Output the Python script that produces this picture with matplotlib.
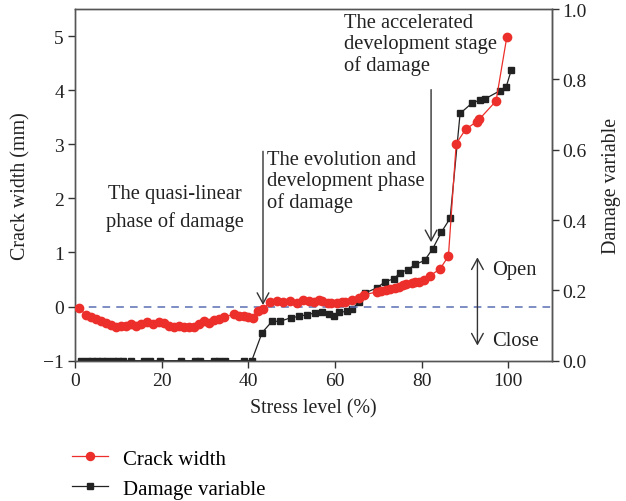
import matplotlib
matplotlib.use("Agg")
import matplotlib.pyplot as plt
from matplotlib.lines import Line2D

plt.rcParams['font.family'] = ['Liberation Serif', 'DejaVu Serif']
plt.rcParams['font.size'] = 14
plt.rcParams['axes.unicode_minus'] = True

# ---- data ----
crack_stress = [1.0, 2.5, 3.7, 4.8, 6.0, 7.1, 8.3, 9.4, 10.6, 11.8, 12.9, 14.0, 15.2, 16.7,
                17.9, 19.4, 20.5, 21.7, 22.8, 24.0, 25.1, 26.3, 27.4, 28.6, 29.8, 30.9, 32.0,
                33.2, 34.3, 36.6, 37.8, 38.9, 40.0, 41.0, 42.3, 43.5, 45.0, 46.6, 48.1, 49.7,
                51.2, 52.7, 54.0, 55.1, 56.3, 57.1, 58.3, 59.0, 60.5, 61.7, 62.4, 64.0, 65.5,
                66.7, 69.7, 70.7, 71.7, 72.8, 73.8, 74.7, 75.7, 76.3, 77.8, 78.6, 79.3, 80.5,
                82.0, 84.3, 86.2, 88.0, 90.2, 92.8, 93.3, 97.2, 99.7]
crack_width = [-0.02, -0.16, -0.20, -0.23, -0.27, -0.31, -0.34, -0.38, -0.36, -0.35, -0.33,
               -0.36, -0.33, -0.29, -0.32, -0.28, -0.31, -0.36, -0.38, -0.36, -0.38, -0.38,
               -0.38, -0.33, -0.27, -0.30, -0.24, -0.23, -0.20, -0.14, -0.17, -0.18, -0.19,
               -0.21, -0.09, -0.04, 0.08, 0.10, 0.08, 0.10, 0.06, 0.13, 0.10, 0.09, 0.12,
               0.11, 0.07, 0.06, 0.07, 0.09, 0.09, 0.12, 0.15, 0.22, 0.27, 0.28, 0.30, 0.32,
               0.35, 0.37, 0.40, 0.41, 0.44, 0.45, 0.46, 0.49, 0.57, 0.70, 0.93, 3.01, 3.28,
               3.42, 3.46, 3.80, 4.99]

damage_stress = [1.5, 2.7, 3.9, 5.1, 6.3, 7.5, 8.7, 9.9, 11.0, 13.0, 16.0, 17.2, 19.6, 24.5,
                 27.6, 28.9, 32.0, 33.3, 34.6, 38.9, 40.8, 43.2, 45.5, 47.3, 49.8, 51.7, 53.6,
                 55.5, 57.1, 58.6, 59.7, 60.9, 62.8, 64.0, 65.5, 67.0, 69.7, 71.5, 73.6, 75.1,
                 76.8, 78.6, 80.7, 82.6, 84.6, 86.6, 88.9, 91.6, 93.4, 94.6, 98.0, 99.5, 100.7]
damage_var = [0.0, 0.0, 0.0, 0.0, 0.0, 0.0, 0.0, 0.0, 0.0, 0.0, 0.0, 0.0, 0.0, 0.0,
              0.0, 0.0, 0.0, 0.0, 0.0, 0.0, 0.0, 0.08, 0.112, 0.112, 0.122, 0.126, 0.131,
              0.136, 0.139, 0.134, 0.128, 0.138, 0.140, 0.147, 0.166, 0.193, 0.207, 0.224,
              0.233, 0.250, 0.259, 0.274, 0.285, 0.319, 0.366, 0.405, 0.703, 0.732, 0.741,
              0.744, 0.767, 0.777, 0.826]

x_ticks = [0, 20, 40, 60, 80, 100]
left_ticks = [-1, 0, 1, 2, 3, 4, 5]
right_ticks = [0.0, 0.2, 0.4, 0.6, 0.8, 1.0]

RED = '#ec2f2a'
DARK = '#222222'
TXT = '#222222'
FS_TICK = 14
FS_LAB = 14.4
FS_ANN = 14.8

fig = plt.figure(figsize=(6.26, 5.02), dpi=100)
ax = fig.add_axes([75/626, 1 - 361.7/502, (551.5 - 75)/626, (361.7 - 10)/502])
ax2 = ax.twinx()

ax.set_xlim(0, 110)
ax.set_ylim(-1, 5.5)
ax2.set_ylim(0, 1.0)

# zero reference line
ax.axhline(0, color='#5a6fb3', lw=1.1, ls=(0, (5, 4)), zorder=1)

ax.plot(crack_stress, crack_width, color=RED, lw=0.9, marker='o', ms=6.0,
        mfc=RED, mec=RED, zorder=3)
ax2.plot(damage_stress, damage_var, color=DARK, lw=0.9, marker='s', ms=5.0,
         mfc=DARK, mec=DARK, zorder=3)
ax.set_zorder(ax2.get_zorder() + 1)
ax.patch.set_visible(False)

ax.set_xticks(x_ticks)
ax.set_yticks(left_ticks)
ax2.set_yticks(right_ticks)
ax2.set_yticklabels([f"{v:.1f}" for v in right_ticks])

for a in (ax, ax2):
    a.tick_params(direction='out', length=5, width=1, colors='#333333', labelsize=FS_TICK,
                  labelcolor=TXT, pad=3)
    for s in a.spines.values():
        s.set_color('#555555')
        s.set_linewidth(1.0)
ax2.spines['right'].set_color('#111111')

ax.set_xlabel('Stress level (%)', fontsize=FS_LAB, labelpad=7, color=TXT)
ax.set_ylabel('Crack width (mm)', fontsize=FS_LAB, labelpad=9, color=TXT)
ax2.set_ylabel('Damage variable', fontsize=FS_LAB, labelpad=11, color=TXT)

ax.text(23, 1.83, 'The quasi-linear\nphase of damage', ha='center', va='center',
        fontsize=FS_ANN, linespacing=1.55, color=TXT)
ax.text(44.3, 2.90, 'The evolution and\ndevelopment phase\nof damage', ha='left', va='top',
        fontsize=FS_ANN, linespacing=1.15, color=TXT)
ax.text(62.1, 5.43, 'The accelerated\ndevelopment stage\nof damage', ha='left', va='top',
        fontsize=FS_ANN, linespacing=1.15, color=TXT)

arrow_kw = dict(arrowstyle='->,head_length=0.55,head_width=0.3', color='#333333', lw=1.0,
                shrinkA=0, shrinkB=0)
ax.annotate('', xy=(43.4, 0.03), xytext=(43.4, 2.87), arrowprops=arrow_kw)
ax.annotate('', xy=(82.2, 1.19), xytext=(82.2, 4.01), arrowprops=arrow_kw)
ax.annotate('', xy=(92.9, 0.91), xytext=(92.9, -0.72),
            arrowprops=dict(arrowstyle='<->,head_length=0.55,head_width=0.3', color='#333333',
                            lw=1.0, shrinkA=0, shrinkB=0))
ax.text(96.2, 0.68, 'Open', ha='left', va='center', fontsize=FS_ANN, color=TXT)
ax.text(96.2, -0.63, 'Close', ha='left', va='center', fontsize=FS_ANN, color=TXT)

handles = [Line2D([], [], color=RED, lw=0.9, marker='o', ms=5.8, mfc=RED, mec=RED),
           Line2D([], [], color=DARK, lw=0.9, marker='s', ms=5.0, mfc=DARK, mec=DARK)]
fig.legend(handles, ['Crack width', 'Damage variable'], loc='upper left',
           bbox_to_anchor=(72/626, 1 - 450/502), frameon=False, fontsize=15,
           handlelength=1.75, handletextpad=0.7, labelspacing=0.5, borderpad=0,
           borderaxespad=0)

fig.savefig('out.png', dpi=100)
